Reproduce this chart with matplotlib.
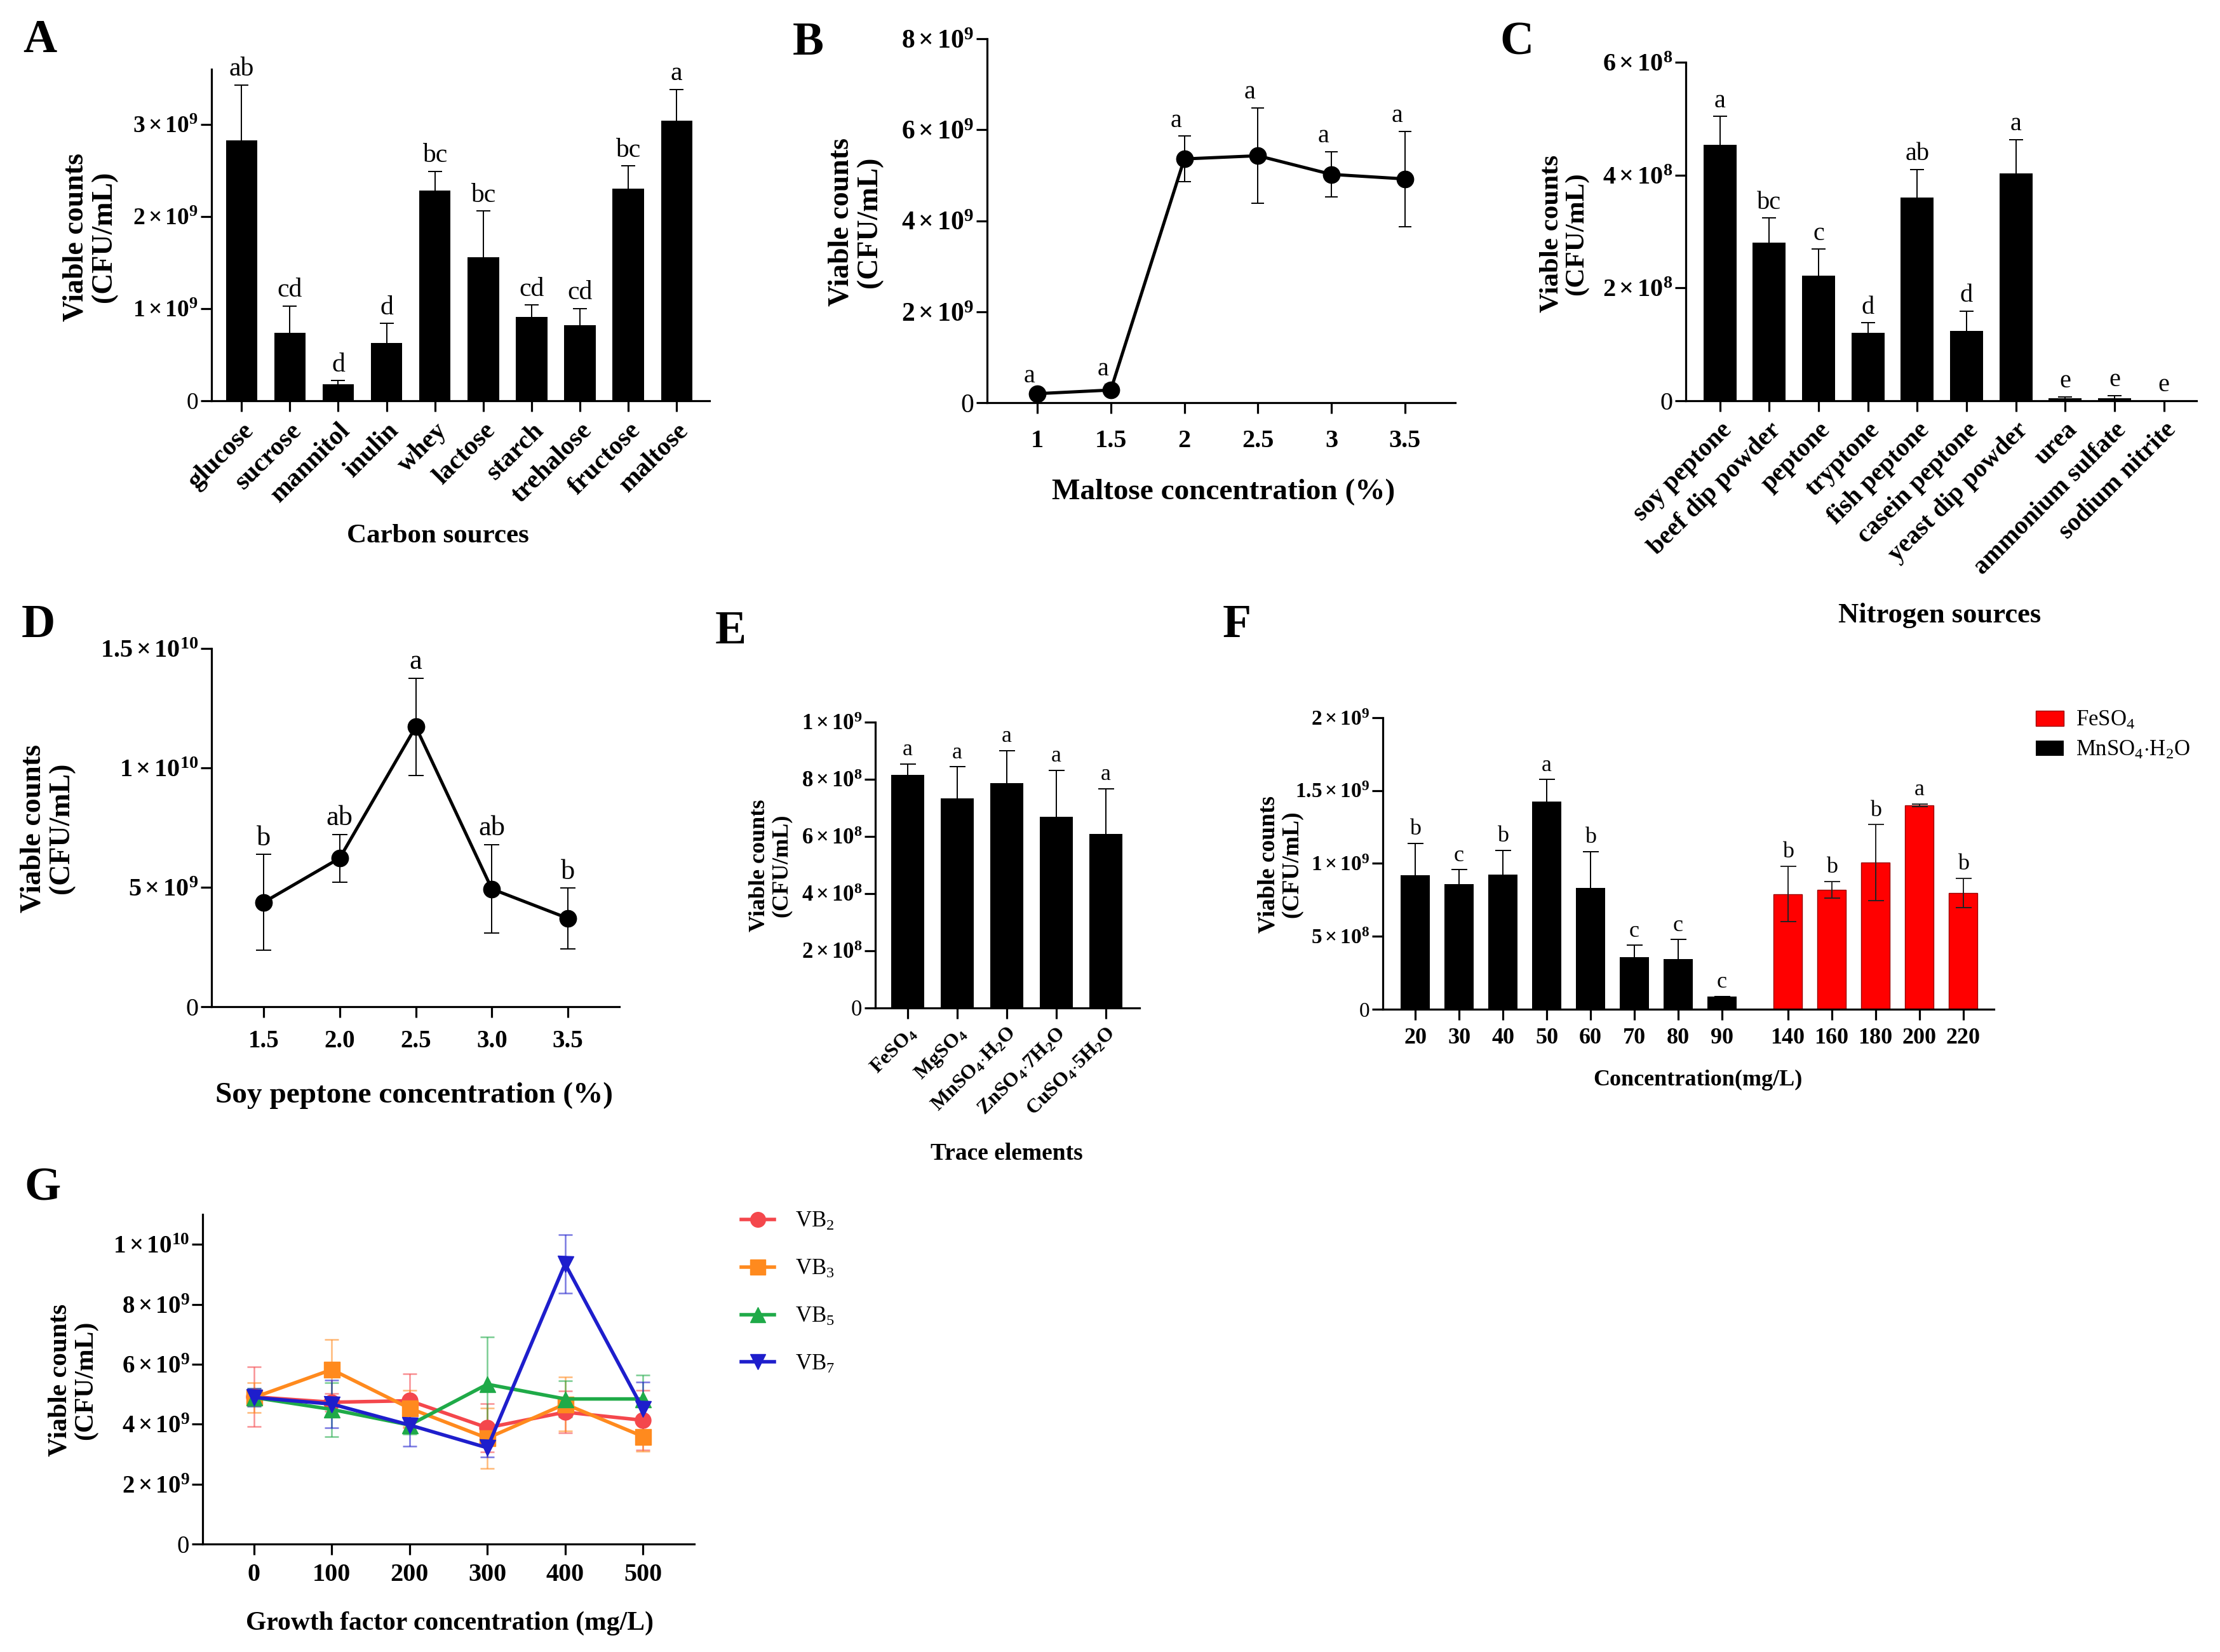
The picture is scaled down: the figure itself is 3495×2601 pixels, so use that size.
import matplotlib
matplotlib.use('Agg')
import matplotlib.pyplot as plt
import numpy as np
from matplotlib.lines import Line2D

plt.rcParams['font.family'] = ['Liberation Serif', 'DejaVu Serif']
plt.rcParams['mathtext.fontset'] = 'custom'
plt.rcParams['mathtext.rm'] = 'Liberation Serif'
plt.rcParams['mathtext.it'] = 'Liberation Serif:italic'
plt.rcParams['mathtext.bf'] = 'Liberation Serif:bold'

# ---------------- DATA ----------------
# A: carbon sources
carbon_sources = ['glucose', 'sucrose', 'mannitol', 'inulin', 'whey', 'lactose',
                  'starch', 'trehalose', 'fructose', 'maltose']
carbon_mean = [2.83e9, 0.74e9, 0.18e9, 0.63e9, 2.28e9, 1.56e9, 0.91e9, 0.82e9, 2.30e9, 3.04e9]
carbon_err = [0.60e9, 0.29e9, 0.04e9, 0.21e9, 0.21e9, 0.50e9, 0.13e9, 0.18e9, 0.25e9, 0.34e9]
carbon_sig = ['ab', 'cd', 'd', 'd', 'bc', 'bc', 'cd', 'cd', 'bc', 'a']
A_yticks = [0, 1e9, 2e9, 3e9]
A_yticklabels = ['0', r'$\mathbf{1\times10^{9}}$', r'$\mathbf{2\times10^{9}}$', r'$\mathbf{3\times10^{9}}$']

# B: maltose concentration
maltose_conc = [1, 1.5, 2, 2.5, 3, 3.5]
maltose_mean = [0.20e9, 0.28e9, 5.36e9, 5.43e9, 5.02e9, 4.92e9]
maltose_err = [0.05e9, 0.12e9, 0.50e9, 1.05e9, 0.50e9, 1.05e9]
maltose_sig = ['a', 'a', 'a', 'a', 'a', 'a']
B_xticklabels = ['1', '1.5', '2', '2.5', '3', '3.5']
B_yticks = [0, 2e9, 4e9, 6e9, 8e9]
B_yticklabels = ['0', r'$\mathbf{2\times10^{9}}$', r'$\mathbf{4\times10^{9}}$',
                 r'$\mathbf{6\times10^{9}}$', r'$\mathbf{8\times10^{9}}$']

# C: nitrogen sources
nitrogen_sources = ['soy peptone', 'beef dip powder', 'peptone', 'tryptone', 'fish peptone',
                    'casein peptone', 'yeast dip powder', 'urea', 'ammonium sulfate', 'sodium nitrite']
nitrogen_mean = [4.54e8, 2.80e8, 2.22e8, 1.20e8, 3.60e8, 1.24e8, 4.03e8, 0.05e8, 0.05e8, 0.0]
nitrogen_err = [0.50e8, 0.44e8, 0.47e8, 0.18e8, 0.50e8, 0.35e8, 0.60e8, 0.02e8, 0.04e8, 0.0]
nitrogen_sig = ['a', 'bc', 'c', 'd', 'ab', 'd', 'a', 'e', 'e', 'e']
C_yticks = [0, 2e8, 4e8, 6e8]
C_yticklabels = ['0', r'$\mathbf{2\times10^{8}}$', r'$\mathbf{4\times10^{8}}$', r'$\mathbf{6\times10^{8}}$']

# D: soy peptone concentration
soy_conc = [1.5, 2.0, 2.5, 3.0, 3.5]
soy_mean = [4.37e9, 6.22e9, 11.72e9, 4.93e9, 3.70e9]
soy_err = [2.00e9, 1.00e9, 2.03e9, 1.85e9, 1.27e9]
soy_sig = ['b', 'ab', 'a', 'ab', 'b']
D_xticklabels = ['1.5', '2.0', '2.5', '3.0', '3.5']
D_yticks = [0, 5e9, 1e10, 1.5e10]
D_yticklabels = ['0', r'$\mathbf{5\times10^{9}}$', r'$\mathbf{1\times10^{10}}$', r'$\mathbf{1.5\times10^{10}}$']

# E: trace elements
trace_elements = [r'$\mathbf{FeSO_4}$', r'$\mathbf{MgSO_4}$', r'$\mathbf{MnSO_4{\cdot}H_2O}$',
                  r'$\mathbf{ZnSO_4{\cdot}7H_2O}$', r'$\mathbf{CuSO_4{\cdot}5H_2O}$']
trace_mean = [8.15e8, 7.32e8, 7.87e8, 6.69e8, 6.08e8]
trace_err = [0.38e8, 1.12e8, 1.13e8, 1.62e8, 1.59e8]
trace_sig = ['a', 'a', 'a', 'a', 'a']
E_yticks = [0, 2e8, 4e8, 6e8, 8e8, 1e9]
E_yticklabels = ['0', r'$\mathbf{2\times10^{8}}$', r'$\mathbf{4\times10^{8}}$', r'$\mathbf{6\times10^{8}}$',
                 r'$\mathbf{8\times10^{8}}$', r'$\mathbf{1\times10^{9}}$']

# F: MnSO4.H2O and FeSO4 concentration
mn_conc = ['20', '30', '40', '50', '60', '70', '80', '90']
mn_mean = [9.17e8, 8.59e8, 9.25e8, 14.26e8, 8.32e8, 3.56e8, 3.45e8, 0.89e8]
mn_err = [2.20e8, 0.98e8, 1.65e8, 1.50e8, 2.50e8, 0.82e8, 1.33e8, 0.0]
mn_sig = ['b', 'c', 'b', 'a', 'b', 'c', 'c', 'c']
fe_conc = ['140', '160', '180', '200', '220']
fe_mean = [7.90e8, 8.19e8, 10.06e8, 13.99e8, 7.99e8]
fe_err = [1.90e8, 0.58e8, 2.60e8, 0.10e8, 1.00e8]
fe_sig = ['b', 'b', 'b', 'a', 'b']
F_yticks = [0, 5e8, 1e9, 1.5e9, 2e9]
F_yticklabels = ['0', r'$\mathbf{5\times10^{8}}$', r'$\mathbf{1\times10^{9}}$',
                 r'$\mathbf{1.5\times10^{9}}$', r'$\mathbf{2\times10^{9}}$']

# G: growth factors
growth_conc = [0, 100, 200, 300, 400, 500]
vb2_mean = [4.91e9, 4.73e9, 4.78e9, 3.88e9, 4.40e9, 4.13e9]
vb2_err = [1.00e9, 0.30e9, 0.90e9, 0.80e9, 0.70e9, 1.00e9]
vb3_mean = [4.89e9, 5.82e9, 4.53e9, 3.53e9, 4.67e9, 3.59e9]
vb3_err = [0.50e9, 1.00e9, 0.60e9, 1.00e9, 0.90e9, 0.50e9]
vb5_mean = [4.89e9, 4.49e9, 3.97e9, 5.33e9, 4.84e9, 4.84e9]
vb5_err = [0.30e9, 0.90e9, 0.30e9, 1.57e9, 0.60e9, 0.80e9]
vb7_mean = [4.89e9, 4.67e9, 3.97e9, 3.21e9, 9.35e9, 4.51e9]
vb7_err = [0.30e9, 0.80e9, 0.70e9, 0.30e9, 0.98e9, 0.90e9]
G_yticks = [0, 2e9, 4e9, 6e9, 8e9, 1e10]
G_yticklabels = ['0', r'$\mathbf{2\times10^{9}}$', r'$\mathbf{4\times10^{9}}$', r'$\mathbf{6\times10^{9}}$',
                 r'$\mathbf{8\times10^{9}}$', r'$\mathbf{1\times10^{10}}$']
G_series = [r'VB$_2$', r'VB$_3$', r'VB$_5$', r'VB$_7$']

# ---------------- FIGURE ----------------
fig = plt.figure(figsize=(34.95, 26.01), dpi=100)
YLAB = 'Viable counts\n(CFU/mL)'
ELW = 1.4


def style(ax, ytick_fs, xtick_fs):
    for s in ['top', 'right']:
        ax.spines[s].set_visible(False)
    for s in ['left', 'bottom']:
        ax.spines[s].set_linewidth(2.3)
    ax.tick_params(axis='both', width=2.3, length=12, direction='out')
    ax.tick_params(axis='y', labelsize=ytick_fs, pad=3)
    ax.tick_params(axis='x', labelsize=xtick_fs)


def labels(ax, xlabel, xfs, xpos, ypos, yfs):
    ax.set_xlabel(xlabel, fontsize=xfs, fontweight='bold')
    ax.xaxis.set_label_coords(*xpos)
    ax.xaxis.label.set_va('center')
    ax.set_ylabel(YLAB, fontsize=yfs, fontweight='bold', linespacing=1.05)
    ax.yaxis.set_label_coords(*ypos)
    ax.yaxis.label.set_va('center')
    ax.yaxis.label.set_ha('center')


def letters(ax, xs, means, errs, sig, fs, dx=0, dy=4):
    for xi, m, e, s in zip(xs, means, errs, sig):
        ax.annotate(s, (xi, m + e), xytext=(dx, dy), textcoords='offset points',
                    ha='center', va='bottom', fontsize=fs)


ekw = dict(elinewidth=ELW, capthick=ELW, ecolor='black')

# ---- A ----
axA = fig.add_axes([0.0953, 0.7574, 0.2243, 0.2007])
xA = np.arange(len(carbon_sources))
axA.bar(xA, carbon_mean, width=0.65, color='black', yerr=carbon_err, capsize=8, error_kw=ekw)
axA.set_xlim(-0.62, 9.68)
axA.set_ylim(0, 3.6e9)
axA.set_yticks(A_yticks)
axA.set_yticklabels(A_yticklabels)
style(axA, 27, 30)
axA.set_xticks(xA)
axA.set_xticklabels(carbon_sources, rotation=45, ha='right', va='top',
                    rotation_mode='anchor', fontweight='bold')
axA.tick_params(axis='x', pad=8)
letters(axA, xA, carbon_mean, carbon_err, carbon_sig, 30)
labels(axA, 'Carbon sources', 31, (0.454, -0.408), (-0.244, 0.494), 33)

# ---- B ----
axB = fig.add_axes([0.4446, 0.7562, 0.2109, 0.2203])
axB.errorbar(maltose_conc, maltose_mean, yerr=maltose_err, fmt='-o', color='black', ms=19,
             lw=3.6, elinewidth=ELW, capsize=7.5, capthick=ELW)
axB.set_xlim(0.659, 3.841)
axB.set_ylim(0, 8e9)
axB.set_yticks(B_yticks)
axB.set_yticklabels(B_yticklabels)
style(axB, 30, 29)
axB.set_xticks(maltose_conc)
axB.set_xticklabels(B_xticklabels, fontweight='bold')
axB.tick_params(axis='x', pad=18)
letters(axB, maltose_conc, maltose_mean, maltose_err, maltose_sig, 29, dx=-9)
labels(axB, 'Maltose concentration (%)', 34, (0.505, -0.246), (-0.281, 0.496), 33)

# ---- C ----
axC = fig.add_axes([0.7594, 0.7574, 0.2300, 0.2049])
xC = np.arange(len(nitrogen_sources))
axC.bar(xC, nitrogen_mean, width=0.67, color='black', yerr=nitrogen_err, capsize=8, error_kw=ekw)
axC.set_xlim(-0.69, 9.66)
axC.set_ylim(0, 6e8)
axC.set_yticks(C_yticks)
axC.set_yticklabels(C_yticklabels)
style(axC, 29, 29)
axC.set_xticks(xC)
axC.set_xticklabels(nitrogen_sources, rotation=45, ha='right', va='top',
                    rotation_mode='anchor', fontweight='bold')
axC.tick_params(axis='x', pad=8)
letters(axC, xC, nitrogen_mean, nitrogen_err, nitrogen_sig, 29)
labels(axC, 'Nitrogen sources', 32, (0.4975, -0.634), (-0.239, 0.493), 31)

# ---- D ----
axD = fig.add_axes([0.0953, 0.3906, 0.1837, 0.2169])
axD.errorbar(soy_conc, soy_mean, yerr=soy_err, fmt='-o', color='black', ms=19,
             lw=3.6, elinewidth=ELW, capsize=8.5, capthick=ELW)
axD.set_xlim(1.158, 3.838)
axD.set_ylim(0, 1.5e10)
axD.set_yticks(D_yticks)
axD.set_yticklabels(D_yticklabels)
style(axD, 29, 28)
axD.set_xticks(soy_conc)
axD.set_xticklabels(D_xticklabels, fontweight='bold')
axD.tick_params(axis='x', pad=14)
letters(axD, soy_conc, soy_mean, soy_err, soy_sig, 32)
labels(axD, 'Soy peptone concentration (%)', 34, (0.497, -0.248), (-0.402, 0.498), 33)

# ---- E ----
axE = fig.add_axes([0.3943, 0.3899, 0.1190, 0.1730])
xE = np.arange(len(trace_elements))
axE.bar(xE, trace_mean, width=0.67, color='black', yerr=trace_err, capsize=9, error_kw=ekw)
axE.set_xlim(-0.65, 4.68)
axE.set_ylim(0, 1e9)
axE.set_yticks(E_yticks)
axE.set_yticklabels(E_yticklabels)
style(axE, 25, 23)
axE.set_xticks(xE)
axE.set_xticklabels(trace_elements, rotation=45, ha='right', va='top', rotation_mode='anchor')
axE.tick_params(axis='x', pad=6)
letters(axE, xE, trace_mean, trace_err, trace_sig, 26)
labels(axE, 'Trace elements', 27, (0.498, -0.511), (-0.397, 0.498), 26)

# ---- F ----
axF = fig.add_axes([0.6229, 0.3891, 0.2752, 0.1765])
x_mn = np.arange(len(mn_conc))
x_fe = np.arange(len(fe_conc)) + len(mn_conc) + 0.5
axF.bar(x_fe, fe_mean, width=0.66, color='#FF0000', edgecolor='#9A0000', linewidth=1,
        yerr=fe_err, capsize=9, error_kw=dict(elinewidth=ELW, capthick=ELW, ecolor='#222222'),
        label=r'FeSO$_4$')
axF.bar(x_mn, mn_mean, width=0.66, color='black', yerr=mn_err, capsize=9,
        error_kw=dict(elinewidth=ELW, capthick=ELW, ecolor='black'), label=r'MnSO$_4$$\cdot$H$_2$O')
axF.set_xlim(-0.74, 13.2)
axF.set_ylim(0, 2e9)
axF.set_yticks(F_yticks)
axF.set_yticklabels(F_yticklabels)
style(axF, 24, 26)
axF.set_xticks(list(x_mn) + list(x_fe))
axF.set_xticklabels(mn_conc + fe_conc, fontweight='bold')
axF.tick_params(axis='x', pad=9)
letters(axF, x_mn, mn_mean, mn_err, mn_sig, 26)
letters(axF, x_fe, fe_mean, fe_err, fe_sig, 26)
labels(axF, 'Concentration(mg/L)', 26, (0.516, -0.242), (-0.168, 0.497), 27)
axF.legend(loc='upper left', bbox_to_anchor=(0.9170, 0.5702), bbox_transform=fig.transFigure,
           frameon=False, fontsize=25, handlelength=1.28, handleheight=0.7, labelspacing=0.4,
           handletextpad=0.55, borderaxespad=0, borderpad=0)

# ---- G ----
axG = fig.add_axes([0.0913, 0.0654, 0.2214, 0.1995])
g_means = [vb2_mean, vb3_mean, vb5_mean, vb7_mean]
g_errs = [vb2_err, vb3_err, vb5_err, vb7_err]
g_colors = ['#F4474C', '#FF8A1E', '#1FAA48', '#1E1ECC']
g_markers = ['o', 's', '^', 'v']
for m, e, c, mk, lab in zip(g_means, g_errs, g_colors, g_markers, G_series):
    ln, caps, bars = axG.errorbar(growth_conc, m, yerr=e, fmt='-' + mk, color=c, ms=18, lw=4,
                                  elinewidth=1.8, capsize=8, capthick=1.8, label=lab)
    for cp in caps:
        cp.set_alpha(0.6)
    for b in bars:
        b.set_alpha(0.6)
axG.set_xlim(-66, 566)
axG.set_ylim(0, 1.1e10)
axG.set_yticks(G_yticks)
axG.set_yticklabels(G_yticklabels)
style(axG, 28, 29)
axG.set_xticks(growth_conc)
axG.set_xticklabels([str(v) for v in growth_conc], fontweight='bold')
axG.tick_params(axis='x', pad=10)
labels(axG, 'Growth factor concentration (mg/L)', 30, (0.503, -0.241), (-0.264, 0.497), 30)
handles = [Line2D([0], [0], color=c, marker=mk, lw=4, ms=17) for c, mk in zip(g_colors, g_markers)]
axG.legend(handles, G_series, loc='upper left', bbox_to_anchor=(0.3339, 0.2668),
           bbox_transform=fig.transFigure, frameon=False, fontsize=25, handlelength=1.5,
           labelspacing=1.2, handletextpad=0.95, borderaxespad=0, borderpad=0)

# ---- panel letters ----
for lab, (px, py) in zip('ABCDEFG', [(63, 64), (1272, 68), (2388, 68), (60, 985),
                                      (1150, 995), (1947, 985), (67, 1872)]):
    fig.text(px / 3495, 1 - py / 2601, lab, fontsize=53, fontweight='bold', ha='center', va='center')

fig.savefig('out.png', dpi=100)
